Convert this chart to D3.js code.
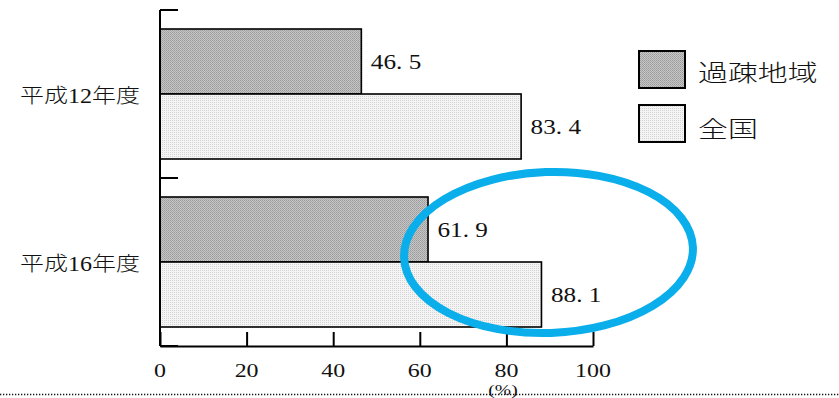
<!DOCTYPE html>
<html><head><meta charset="utf-8">
<script src="https://cdn.jsdelivr.net/npm/d3@7"></script>
<style>
html,body{margin:0;padding:0;background:#fff;}
svg{display:block;}
</style></head>
<body>
<svg id="chart" width="839" height="398"></svg>
<script>
const categories = ["平成12年度", "平成16年度"];
const seriesNames = ["過疎地域", "全国"];
const kasoValues = [46.5, 61.9];
const zenkokuValues = [83.4, 88.1];
const xTicks = [0, 20, 40, 60, 80, 100];
const unitLabel = "(%)";

const svg = d3.select("#chart");
const defs = svg.append("defs");

// patterns
const pDark = defs.append("pattern").attr("id", "pDark").attr("patternUnits", "userSpaceOnUse")
  .attr("width", 2).attr("height", 2);
pDark.append("rect").attr("width", 2).attr("height", 2).attr("fill", "#c6c6c6");
pDark.append("rect").attr("width", 1).attr("height", 1).attr("fill", "#9a9a9a");
pDark.append("rect").attr("x", 1).attr("y", 1).attr("width", 1).attr("height", 1).attr("fill", "#a8a8a8");
const pLight = defs.append("pattern").attr("id", "pLight").attr("patternUnits", "userSpaceOnUse")
  .attr("width", 2).attr("height", 2);
pLight.append("rect").attr("width", 2).attr("height", 2).attr("fill", "#f4f4f4");
pLight.append("rect").attr("width", 1).attr("height", 1).attr("fill", "#d4d4d4");

const fills = ["url(#pDark)", "url(#pLight)"];
const seriesData = [kasoValues, zenkokuValues];

const x = d3.scaleLinear().domain([0, 100]).range([160, 593]);
const y = d3.scaleBand().domain(categories).range([10, 346]).padding(0);
const ySub = d3.scaleBand().domain(seriesNames).range([19, 149]).padding(0);

const fmt = v => d3.format(".1f")(v).replace(".", ". ");

const serifFont = "'Liberation Serif', 'DejaVu Serif', 'Noto Sans CJK JP', serif";
const cjkFont = "'Liberation Serif', 'Noto Sans CJK JP', sans-serif";

// bars
categories.forEach((c, ci) => {
  seriesNames.forEach((s, si) => {
    const v = seriesData[si][ci];
    const y0 = y(c) + ySub(s);
    svg.append("rect")
      .attr("x", x(0)).attr("y", y0)
      .attr("width", x(v) - x(0)).attr("height", ySub.bandwidth())
      .attr("fill", fills[si]).attr("stroke", "#000").attr("stroke-width", 1.6);
    svg.append("text")
      .attr("transform", `translate(${x(v) + 9.5},${y0 + ySub.bandwidth() / 2}) scale(1.2,1)`)
      .attr("dominant-baseline", "central")
      .attr("font-family", serifFont).attr("font-size", 21).attr("fill", "#111")
      .style("white-space", "pre")
      .text(fmt(v));
  });
  // category label
  svg.append("text")
    .attr("transform", `translate(140,${y(c) + y.bandwidth() / 2 + 2}) scale(1.2,1)`)
    .attr("text-anchor", "end").attr("dominant-baseline", "central")
    .attr("font-family", cjkFont).attr("font-size", 20).attr("font-weight", 300).attr("fill", "#111")
    .text(c);
});

// y axis line and boundary ticks
svg.append("line").attr("x1", x(0)).attr("x2", x(0)).attr("y1", y.range()[0]).attr("y2", y.range()[1])
  .attr("stroke", "#000").attr("stroke-width", 2);
const bounds = categories.map(c => y(c)).concat([y.range()[1]]);
bounds.forEach(b => {
  svg.append("line").attr("x1", x(0)).attr("x2", x(0) + 18).attr("y1", b).attr("y2", b)
    .attr("stroke", "#000").attr("stroke-width", 2);
});

// x axis
const xAxis = d3.axisBottom(x).tickValues(xTicks).tickSize(-14).tickSizeOuter(0).tickFormat("");
const gx = svg.append("g").attr("transform", `translate(0,${y.range()[1]})`).call(xAxis);
gx.select(".domain").attr("stroke", "#000").attr("stroke-width", 2);
gx.selectAll(".tick line").attr("stroke", "#000").attr("stroke-width", 2);

xTicks.forEach(t => {
  svg.append("text")
    .attr("transform", `translate(${x(t)},${y.range()[1] + 25.5}) scale(1.33,1)`)
    .attr("text-anchor", "middle").attr("dominant-baseline", "central")
    .attr("font-family", serifFont).attr("font-size", 18).attr("fill", "#111")
    .text(t);
});
svg.append("text")
  .attr("transform", `translate(503,394.5) scale(1.4,1)`)
  .attr("text-anchor", "middle")
  .attr("font-family", serifFont).attr("font-size", 14).attr("fill", "#111")
  .text(unitLabel);

// dotted line
svg.append("line").attr("x1", 0).attr("x2", 839).attr("y1", 394.5).attr("y2", 394.5)
  .attr("stroke", "#111").attr("stroke-width", 1.3).attr("stroke-dasharray", "1.3,1.7");

// legend
seriesNames.forEach((s, si) => {
  const ly = 51 + si * 54;
  svg.append("rect").attr("x", 639).attr("y", ly).attr("width", 46).attr("height", 37)
    .attr("fill", fills[si]).attr("stroke", "#000").attr("stroke-width", 2);
  svg.append("text")
    .attr("transform", `translate(698,${ly + 20 + si * 2}) scale(1.3,1)`)
    .attr("dominant-baseline", "central")
    .attr("font-family", "'Noto Sans CJK JP', sans-serif").attr("font-size", 23).attr("font-weight", 300).attr("fill", "#111")
    .text(s);
});

// highlight ellipse
svg.append("ellipse")
  .attr("cx", 548.5).attr("cy", 252.5).attr("rx", 144.5).attr("ry", 80.5)
  .attr("transform", "rotate(-2,548.5,252.5)")
  .attr("fill", "none").attr("stroke", "#0aaeea").attr("stroke-width", 8);
</script>
</body></html>
